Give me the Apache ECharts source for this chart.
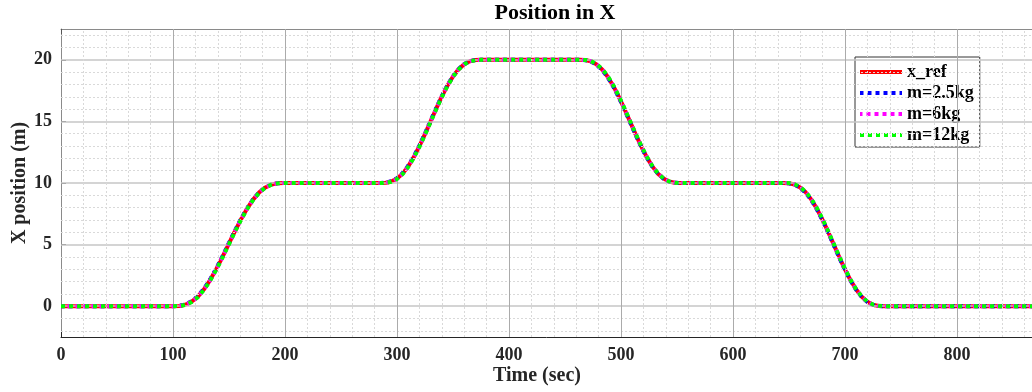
<!DOCTYPE html>
<html>
<head>
<meta charset="utf-8">
<script src="https://cdn.jsdelivr.net/npm/echarts@6/dist/echarts.min.js"></script>
<style>
  html, body { margin: 0; padding: 0; background: #ffffff; }
  #chart { width: 1032px; height: 392px; }
</style>
</head>
<body>
<div id="chart"></div>
<script>
// Time stamps (s) of the sampled trajectories
const timeSec = [0, 100,
  105.5, 111, 116.5, 122, 127.5, 133, 138.5, 144, 149.5, 155, 160.5, 166, 171.5, 177, 182.5, 188, 193.5, 199,
  285,
  290, 295, 300, 305, 310, 315, 320, 325, 330, 335, 340, 345, 350, 355, 360, 365, 370, 375,
  463,
  468, 473, 478, 483, 488, 493, 498, 503, 508, 513, 518, 523, 528, 533, 538, 543, 548, 553,
  645,
  650, 655, 660, 665, 670, 675, 680, 685, 690, 695, 700, 705, 710, 715, 720, 725, 730, 735,
  867];

// Reference X position (m)
const xRef = [0, 0,
  0.02, 0.12, 0.36, 0.76, 1.35, 2.10, 2.99, 3.97, 5.00, 6.03, 7.01, 7.90, 8.65, 9.24, 9.64, 9.88, 9.98, 10,
  10,
  10.02, 10.12, 10.36, 10.76, 11.35, 12.10, 12.99, 13.97, 15.00, 16.03, 17.01, 17.90, 18.65, 19.24, 19.64, 19.88, 19.98, 20,
  20,
  19.98, 19.88, 19.64, 19.24, 18.65, 17.90, 17.01, 16.03, 15.00, 13.97, 12.99, 12.10, 11.35, 10.76, 10.36, 10.12, 10.02, 10,
  10,
  9.98, 9.88, 9.64, 9.24, 8.65, 7.90, 7.01, 6.03, 5.00, 3.97, 2.99, 2.10, 1.35, 0.76, 0.36, 0.12, 0.02, 0,
  0];

// Tracked X position for m = 2.5 kg
const m25 = [0, 0,
  0.03, 0.14, 0.39, 0.80, 1.40, 2.15, 3.04, 4.02, 5.05, 6.08, 7.05, 7.93, 8.67, 9.25, 9.65, 9.89, 9.98, 10,
  10,
  10.03, 10.14, 10.39, 10.80, 11.40, 12.15, 13.04, 14.02, 15.05, 16.08, 17.05, 17.93, 18.67, 19.25, 19.65, 19.89, 19.98, 20,
  20,
  19.97, 19.86, 19.61, 19.20, 18.60, 17.85, 16.96, 15.98, 14.95, 13.92, 12.95, 12.07, 11.33, 10.75, 10.35, 10.11, 10.02, 10,
  10,
  9.97, 9.86, 9.61, 9.20, 8.60, 7.85, 6.96, 5.98, 4.95, 3.92, 2.95, 2.07, 1.33, 0.75, 0.35, 0.11, 0.02, 0,
  0];

// Tracked X position for m = 6 kg
const m6 = [0, 0,
  0.02, 0.12, 0.35, 0.75, 1.34, 2.08, 2.97, 3.95, 4.98, 6.01, 7.00, 7.89, 8.64, 9.23, 9.64, 9.88, 9.98, 10,
  10,
  10.02, 10.12, 10.35, 10.75, 11.34, 12.08, 12.97, 13.95, 14.98, 16.01, 17.00, 17.89, 18.64, 19.23, 19.64, 19.88, 19.98, 20,
  20,
  19.98, 19.88, 19.65, 19.25, 18.66, 17.92, 17.03, 16.05, 15.02, 13.99, 13.00, 12.11, 11.36, 10.77, 10.36, 10.12, 10.02, 10,
  10,
  9.98, 9.88, 9.65, 9.25, 8.66, 7.92, 7.03, 6.05, 5.02, 3.99, 3.00, 2.11, 1.36, 0.77, 0.36, 0.12, 0.02, 0,
  0];

// Tracked X position for m = 12 kg
const m12 = [0, 0,
  0.01, 0.10, 0.33, 0.72, 1.30, 2.04, 2.93, 3.91, 4.94, 5.98, 6.96, 7.86, 8.62, 9.22, 9.63, 9.87, 9.97, 10,
  10,
  10.01, 10.10, 10.33, 10.72, 11.30, 12.04, 12.93, 13.91, 14.94, 15.98, 16.96, 17.86, 18.62, 19.22, 19.63, 19.87, 19.97, 20,
  20,
  19.99, 19.90, 19.67, 19.28, 18.70, 17.96, 17.07, 16.09, 15.06, 14.02, 13.04, 12.14, 11.38, 10.78, 10.37, 10.13, 10.03, 10,
  10,
  9.99, 9.90, 9.67, 9.28, 8.70, 7.96, 7.07, 6.09, 5.06, 4.02, 3.04, 2.14, 1.38, 0.78, 0.37, 0.13, 0.03, 0,
  0];

const seriesNames = ['x_ref', 'm=2.5kg', 'm=6kg', 'm=12kg'];
const yTickLabels = [0, 5, 10, 15, 20];
const xTickLabels = [0, 100, 200, 300, 400, 500, 600, 700, 800];

const X_MIN = 0, X_MAX = 867, Y_MIN = -2.5, Y_MAX = 22.5;
const FONT = "'Liberation Serif', 'Times New Roman', serif";
const TEXT = '#262626';

function pairs(ys) { return timeSec.map((t, i) => [t, ys[i]]); }

// Grid lines (major solid, minor dotted) drawn as mark lines
const gridLines = [];
for (let v = -2; v <= 22; v += 1) {
  const major = v % 5 === 0;
  gridLines.push({ yAxis: v, lineStyle: major
    ? { color: '#c6c6c6', width: 1.6, type: 'solid' }
    : { color: '#d9d9d9', width: 1, type: [2, 2] } });
}
for (let v = 20; v < X_MAX; v += 20) {
  const major = v % 100 === 0;
  gridLines.push({ xAxis: v, lineStyle: major
    ? { color: '#ababab', width: 1, type: 'solid' }
    : { color: '#d9d9d9', width: 1, type: [2, 2] } });
}

const chart = echarts.init(document.getElementById('chart'), null, { renderer: 'canvas' });

chart.setOption({
  animation: false,
  backgroundColor: '#ffffff',
  title: [
    { text: 'Position in X', left: 555, top: 2, padding: 0, textAlign: 'center',
      textStyle: { fontFamily: FONT, fontWeight: 'bold', fontSize: 22, color: '#000' } },
    { text: 'Time (sec)', left: 537, top: 366, padding: 0, textAlign: 'center',
      textStyle: { fontFamily: FONT, fontWeight: 'bold', fontSize: 20, color: TEXT } }
  ],
  grid: { left: 61, right: 0, top: 29, bottom: 55, containLabel: false, outerBoundsMode: 'none' },
  legend: {
    data: seriesNames,
    orient: 'vertical',
    left: 855, top: 57,
    padding: [6, 6, 3, 3],
    itemWidth: 42, itemHeight: 14, itemGap: 3,
    backgroundColor: '#ffffff',
    borderColor: '#333333', borderWidth: 1, borderRadius: 0,
    itemStyle: { color: 'rgba(0,0,0,0)', borderColor: 'rgba(0,0,0,0)', borderWidth: 0 },
    lineStyle: { width: 4 },
    textStyle: { fontFamily: FONT, fontWeight: 'bold', fontSize: 18, color: '#000', lineHeight: 18 }
  },
  xAxis: [
    {
      type: 'value', min: X_MIN, max: X_MAX, interval: 100,
      axisLine: { show: true, onZero: false, lineStyle: { color: TEXT, width: 1 } },
      axisTick: { show: true, inside: true, length: 5, lineStyle: { color: TEXT } },
      axisLabel: { show: true, margin: 9, fontFamily: FONT, fontWeight: 'bold', fontSize: 18, color: TEXT,
        customValues: xTickLabels },
      splitLine: { show: false }
    },
    {
      type: 'value', position: 'top', min: X_MIN, max: X_MAX, interval: 100,
      axisLine: { show: true, onZero: false, lineStyle: { color: '#8a8a8a', width: 1 } },
      axisTick: { show: true, inside: true, length: 5, lineStyle: { color: '#555' } },
      axisLabel: { show: false },
      splitLine: { show: false }
    }
  ],
  yAxis: {
    type: 'value', min: Y_MIN, max: Y_MAX,
    name: 'X position (m)', nameLocation: 'middle', nameGap: 31, nameRotate: 90, nameMoveOverlap: false,
    nameTextStyle: { fontFamily: FONT, fontWeight: 'bold', fontSize: 20, color: TEXT },
    axisLine: { show: true, onZero: false, lineStyle: { color: '#8a8a8a', width: 1 } },
    axisTick: { show: true, inside: true, length: 5, lineStyle: { color: '#555' }, customValues: yTickLabels },
    axisLabel: { show: true, margin: 9, fontFamily: FONT, fontWeight: 'bold', fontSize: 18, color: TEXT,
      customValues: yTickLabels },
    splitLine: { show: false }
  },
  series: [
    {
      name: 'grid', type: 'line', data: [], z: 1, silent: true,
      markLine: { silent: true, symbol: ['none', 'none'], label: { show: false }, animation: false,
        emphasis: { disabled: true }, data: gridLines }
    },
    {
      name: seriesNames[0], type: 'line', data: pairs(xRef), showSymbol: false, symbol: 'none', z: 3,
      itemStyle: { color: '#ff0000' },
      lineStyle: { color: '#ff0000', width: 4, type: 'solid' }
    },
    {
      name: seriesNames[1], type: 'line', data: pairs(m25), showSymbol: false, symbol: 'none', z: 4,
      itemStyle: { color: '#0000ff' },
      lineStyle: { color: '#0000ff', width: 4, type: [4, 4], dashOffset: 0.5, cap: 'butt' }
    },
    {
      name: seriesNames[2], type: 'line', data: pairs(m6), showSymbol: false, symbol: 'none', z: 5,
      itemStyle: { color: '#ff00ff' },
      lineStyle: { color: '#ff00ff', width: 4, type: [4, 4], dashOffset: 1.5, cap: 'butt' }
    },
    {
      name: seriesNames[3], type: 'line', data: pairs(m12), showSymbol: false, symbol: 'none', z: 6,
      itemStyle: { color: '#00ff00' },
      lineStyle: { color: '#00ff00', width: 4, type: [4, 4], dashOffset: 0, cap: 'butt' }
    }
  ]
});
</script>
</body>
</html>
